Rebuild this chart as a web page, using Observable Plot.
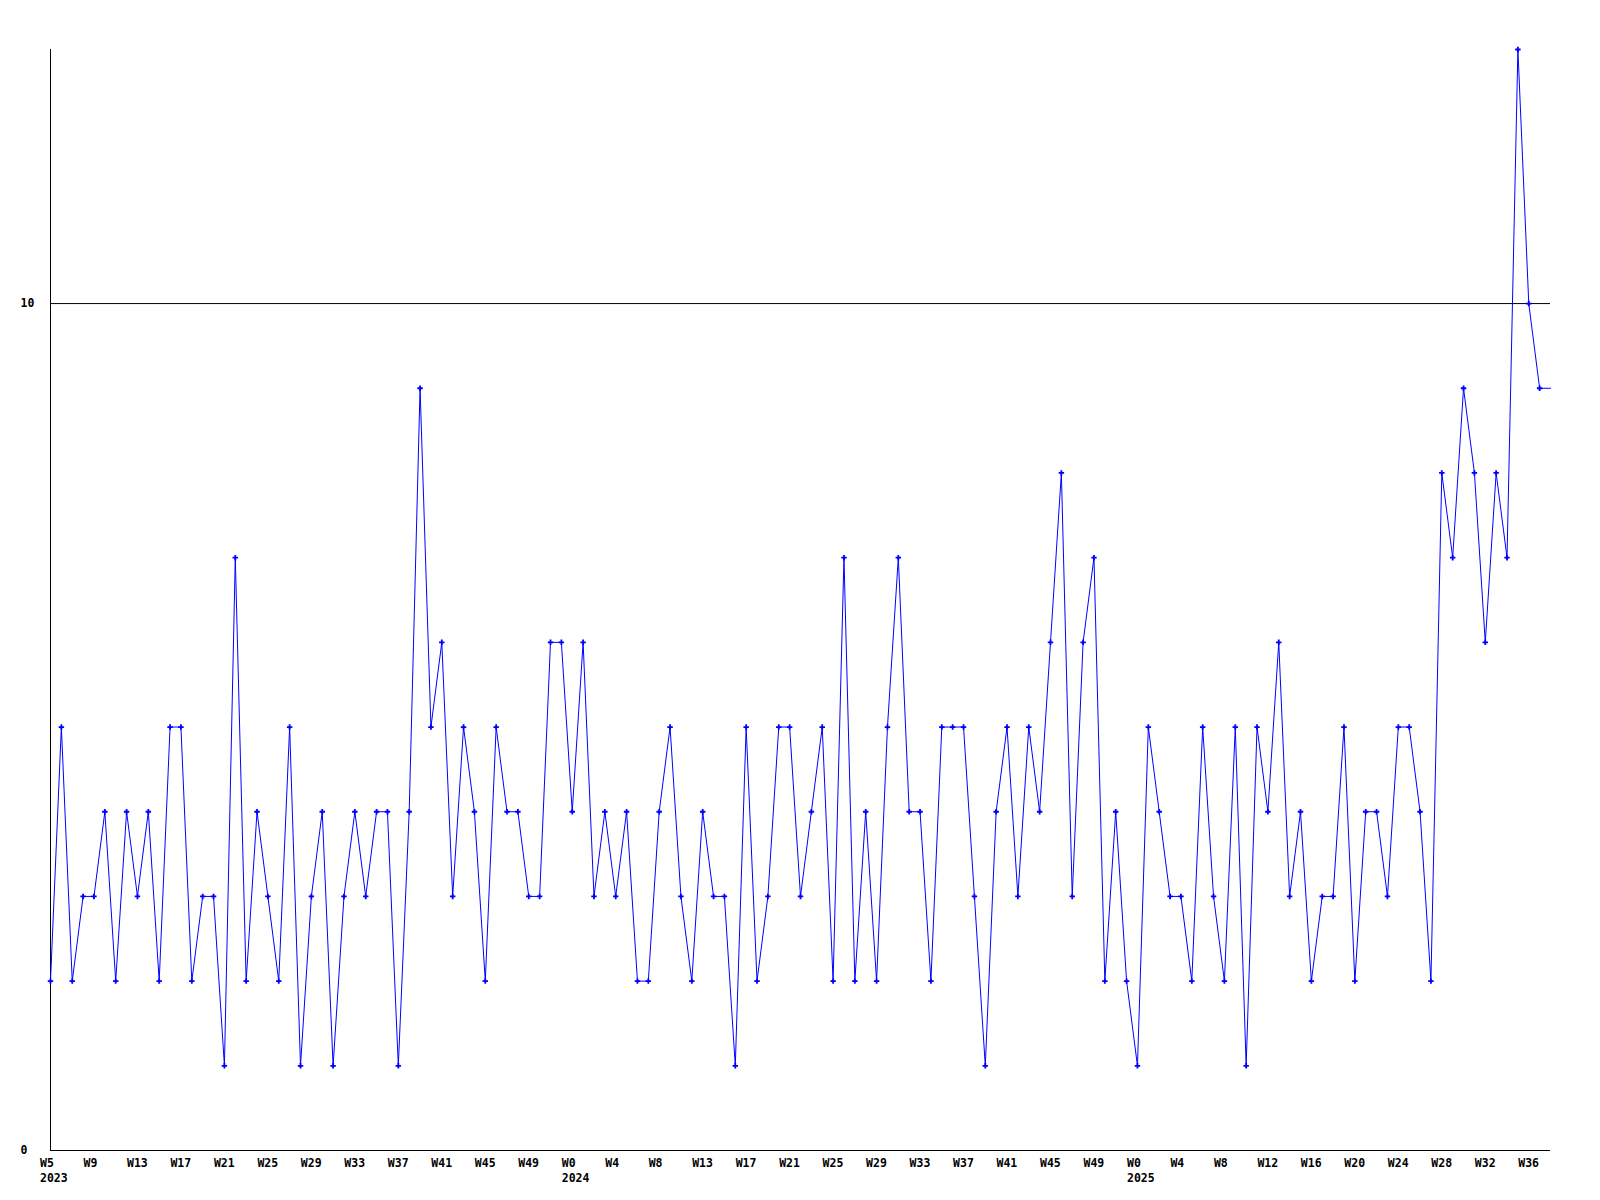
<!DOCTYPE html>
<html>
<head>
<meta charset="utf-8">
<script src="https://cdn.jsdelivr.net/npm/d3@7"></script>
<script src="https://cdn.jsdelivr.net/npm/@observablehq/plot@0.6"></script>
<style>
  html, body { margin: 0; padding: 0; background: #ffffff; }
  #chart svg { display: block; }
</style>
</head>
<body>
<div id="chart"></div>
<script>
// Weekly counts, one value per week starting at 2023 W5.
// The last entry is the current (open) week, drawn by the line only.
const weeklyValues = [
  2,5,2,3,3,4,2,4,3,4,2,5,5,2,3,3,1,7,2,4,3,2,5,1,3,4,1,3,4,3,4,4,1,4,9,5,
  6,3,5,4,2,5,4,4,3,3,6,6,4,6,3,4,3,4,2,2,4,5,3,2,4,3,3,1,5,2,3,5,5,3,4,5,
  2,7,2,4,2,5,7,4,4,2,5,5,5,3,1,4,5,3,5,4,6,8,3,6,7,2,4,2,1,5,4,3,3,2,5,3,
  2,5,1,5,4,6,3,4,2,3,3,5,2,4,4,3,5,5,4,2,8,7,9,8,6,8,7,13,10,9,
  9
];

// Week tick labels (one every 4 weeks) and year labels
const weekTickLabels = [
  "W5","W9","W13","W17","W21","W25","W29","W33","W37","W41","W45","W49",
  "W0","W4","W8","W13","W17","W21","W25","W29","W33","W37","W41","W45","W49",
  "W0","W4","W8","W12","W16","W20","W24","W28","W32","W36"
];
const tickEvery = 4;
const yearLabels = ["2023", "2024", "2025"];
const yearStartWeek = [0, 48, 100];

const yTickValues = [0, 10];
const referenceLevel = [10];

const points = weeklyValues.map((v, i) => ({week: i, value: v}));
const closedPoints = points.slice(0, points.length - 1);
const weekTicks = weekTickLabels.map((label, i) => ({week: i * tickEvery, label}));
const yearTicks = yearLabels.map((label, i) => ({week: yearStartWeek[i], label}));

const chart = Plot.plot({
  width: 1600,
  height: 1200,
  marginLeft: 50,
  marginRight: 50,
  marginTop: 49,
  marginBottom: 50,
  style: {
    background: "#ffffff",
    fontFamily: "'DejaVu Sans Mono', monospace",
    fontSize: "11.5px",
    fontWeight: "bold",
    color: "#000000"
  },
  x: {type: "linear", domain: [0, weeklyValues.length - 1], axis: null},
  y: {type: "linear", domain: [0, 13], axis: null},
  marks: [
    Plot.ruleY(referenceLevel, {stroke: "#000000", strokeWidth: 1}),
    Plot.ruleY([0], {stroke: "#000000", strokeWidth: 1}),
    Plot.ruleX([0], {stroke: "#000000", strokeWidth: 1}),
    Plot.line(points, {x: "week", y: "value", stroke: "#0000ff", strokeWidth: 1, strokeLinejoin: "miter"}),
    Plot.dot(closedPoints, {x: "week", y: "value", symbol: "cross", r: 2.3, fill: "#0000ff", stroke: "none"}),
    Plot.text(yTickValues, {
      y: d => d, text: d => String(d), frameAnchor: "left",
      dx: -30, textAnchor: "start", fill: "#000000"
    }),
    Plot.text(weekTicks, {
      x: "week", text: "label", frameAnchor: "bottom",
      dy: 16, dx: -10.5, textAnchor: "start", fill: "#000000"
    }),
    Plot.text(yearTicks, {
      x: "week", text: "label", frameAnchor: "bottom",
      dy: 31, dx: -10.5, textAnchor: "start", fill: "#000000"
    })
  ]
});

document.getElementById("chart").appendChild(chart);
</script>
</body>
</html>
